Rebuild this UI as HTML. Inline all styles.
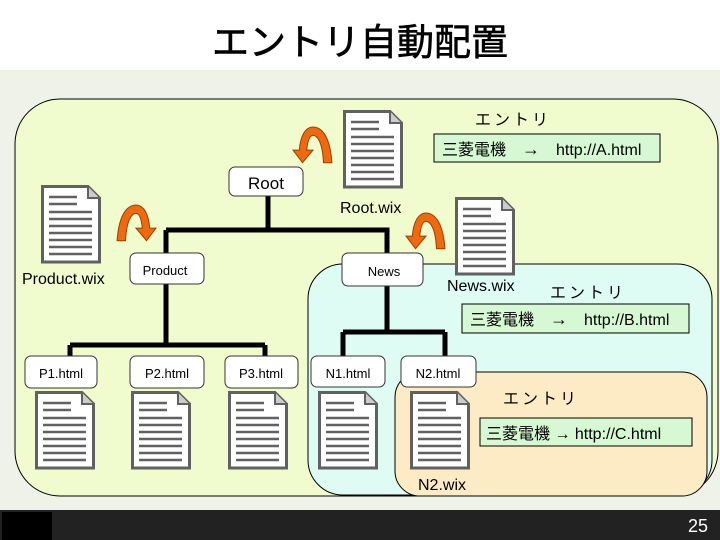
<!DOCTYPE html>
<html><head><meta charset="utf-8"><style>
body{margin:0;width:720px;height:540px;overflow:hidden;background:#fff}
svg{display:block}
text{font-family:"Liberation Sans","Noto Sans CJK JP",sans-serif}
</style></head><body>
<svg width="720" height="540" viewBox="0 0 720 540" xmlns="http://www.w3.org/2000/svg">
<defs>
<g id="doc">
<path d="M1.5 1.5 H47 L58.5 13 V77 H1.5 Z" fill="#fff" stroke="#616161" stroke-width="3"/>
<path d="M47 1.5 V13 H58.5" fill="#ccc" stroke="#616161" stroke-width="2"/>
<g stroke="#616161" stroke-width="2.5">
<line x1="8" y1="12" x2="36" y2="12"/><line x1="8" y1="19" x2="36" y2="19"/>
<line x1="8" y1="27" x2="51" y2="27"/><line x1="8" y1="34" x2="51" y2="34"/>
<line x1="8" y1="41" x2="51" y2="41"/><line x1="8" y1="48" x2="51" y2="48"/>
<line x1="8" y1="55" x2="51" y2="55"/><line x1="8" y1="62" x2="51" y2="62"/>
<line x1="8" y1="69" x2="51" y2="69"/>
</g>
</g>
<g id="arrL">
<path d="M38 34 C36 5 26 0 20 0 C13 0 8 8 7 22 L1 22 L10 34 L20 22 L14 22 C15 12 17 8 20 8 C24 8 29 14 30 34 Z" fill="#ee6a10" stroke="#a04000" stroke-width="1"/>
</g>
</defs>
<rect x="0" y="0" width="720" height="70" fill="#fff"/>
<rect x="0" y="70" width="720" height="440" fill="#eef2e8"/>
<text x="360" y="55" font-size="37" text-anchor="middle" fill="#000" stroke="#000" stroke-width="0.6">エントリ自動配置</text>
<rect x="0" y="510" width="720" height="30" fill="#222"/>
<rect x="2" y="512" width="50" height="28" fill="#000"/>
<text x="708" y="532" font-size="18" fill="#fff" text-anchor="end">25</text>

<rect x="15" y="99" width="703" height="397" rx="45" fill="#f0fcce" stroke="#000" stroke-width="1"/>
<rect x="308" y="264" width="404" height="231" rx="35" fill="#dffcf4" stroke="#000" stroke-width="1"/>
<rect x="395" y="372" width="312" height="124" rx="25" fill="#fdebc5" stroke="#000" stroke-width="1"/>

<g stroke="#000" stroke-width="5" fill="none">
<path d="M268 196 V230 M166 230 H387 V253 M166 230 V345 M70 345 H265 M70 345 V356 M265 345 V356"/>
<path d="M387 286 V332 M343 332 H445 M343 332 V356 M445 332 V356"/>
</g>

<g stroke="#333" stroke-width="1" fill="#fff">
<rect x="229" y="167" width="74" height="29" rx="6"/>
<rect x="130" y="253" width="74" height="31" rx="6"/>
<rect x="342" y="253" width="81" height="33" rx="6"/>
<rect x="25" y="356" width="72" height="32" rx="6"/>
<rect x="130" y="356" width="74" height="32" rx="6"/>
<rect x="225" y="356" width="73" height="32" rx="6"/>
<rect x="311" y="356" width="74" height="31" rx="6"/>
<rect x="401" y="356" width="75" height="31" rx="6"/>
</g>
<text x="266" y="189" font-size="17" text-anchor="middle">Root</text>
<text x="165" y="275" font-size="13" text-anchor="middle">Product</text>
<text x="384" y="276" font-size="13" text-anchor="middle">News</text>
<text x="61" y="378" font-size="13" text-anchor="middle">P1.html</text>
<text x="167" y="378" font-size="13" text-anchor="middle">P2.html</text>
<text x="261" y="378" font-size="13" text-anchor="middle">P3.html</text>
<text x="348" y="378" font-size="13" text-anchor="middle">N1.html</text>
<text x="438" y="378" font-size="13" text-anchor="middle">N2.html</text>

<use href="#doc" x="343" y="110"/>
<use href="#doc" x="41" y="185"/>
<use href="#doc" x="455" y="197"/>
<use href="#doc" x="35" y="391"/>
<use href="#doc" x="131" y="391"/>
<use href="#doc" x="228" y="391"/>
<use href="#doc" x="318" y="391"/>
<use href="#doc" x="410" y="391"/>

<use href="#arrL" transform="translate(292,127) scale(1.05,1.05)"/>
<use href="#arrL" transform="translate(405,213) scale(1.05,1.05)"/>
<use href="#arrL" transform="translate(157,205) scale(-1.05,1.05)"/>

<text x="340" y="213" font-size="16">Root.wix</text>
<text x="22" y="284" font-size="16">Product.wix</text>
<text x="447" y="291" font-size="16">News.wix</text>
<text x="418" y="490" font-size="16">N2.wix</text>

<text x="475" y="125" font-size="16" letter-spacing="3">エントリ</text>
<text x="550" y="298" font-size="16" letter-spacing="3">エントリ</text>
<text x="503" y="404" font-size="16" letter-spacing="3">エントリ</text>

<rect x="434" y="134" width="226" height="28" fill="#d6f8d2" stroke="#000" stroke-width="1"/>
<text x="442" y="155" font-size="16">三菱電機　<tspan font-size="18">→</tspan>　http://A.html</text>
<rect x="462" y="304" width="227" height="29" fill="#d6f8d2" stroke="#000" stroke-width="1"/>
<text x="470" y="325" font-size="16">三菱電機　<tspan font-size="18">→</tspan>　http://B.html</text>
<rect x="480" y="418" width="212" height="28" fill="#d6f8d2" stroke="#000" stroke-width="1"/>
<text x="486" y="439" font-size="16">三菱電機 → http://C.html</text>
</svg>
</body></html>
